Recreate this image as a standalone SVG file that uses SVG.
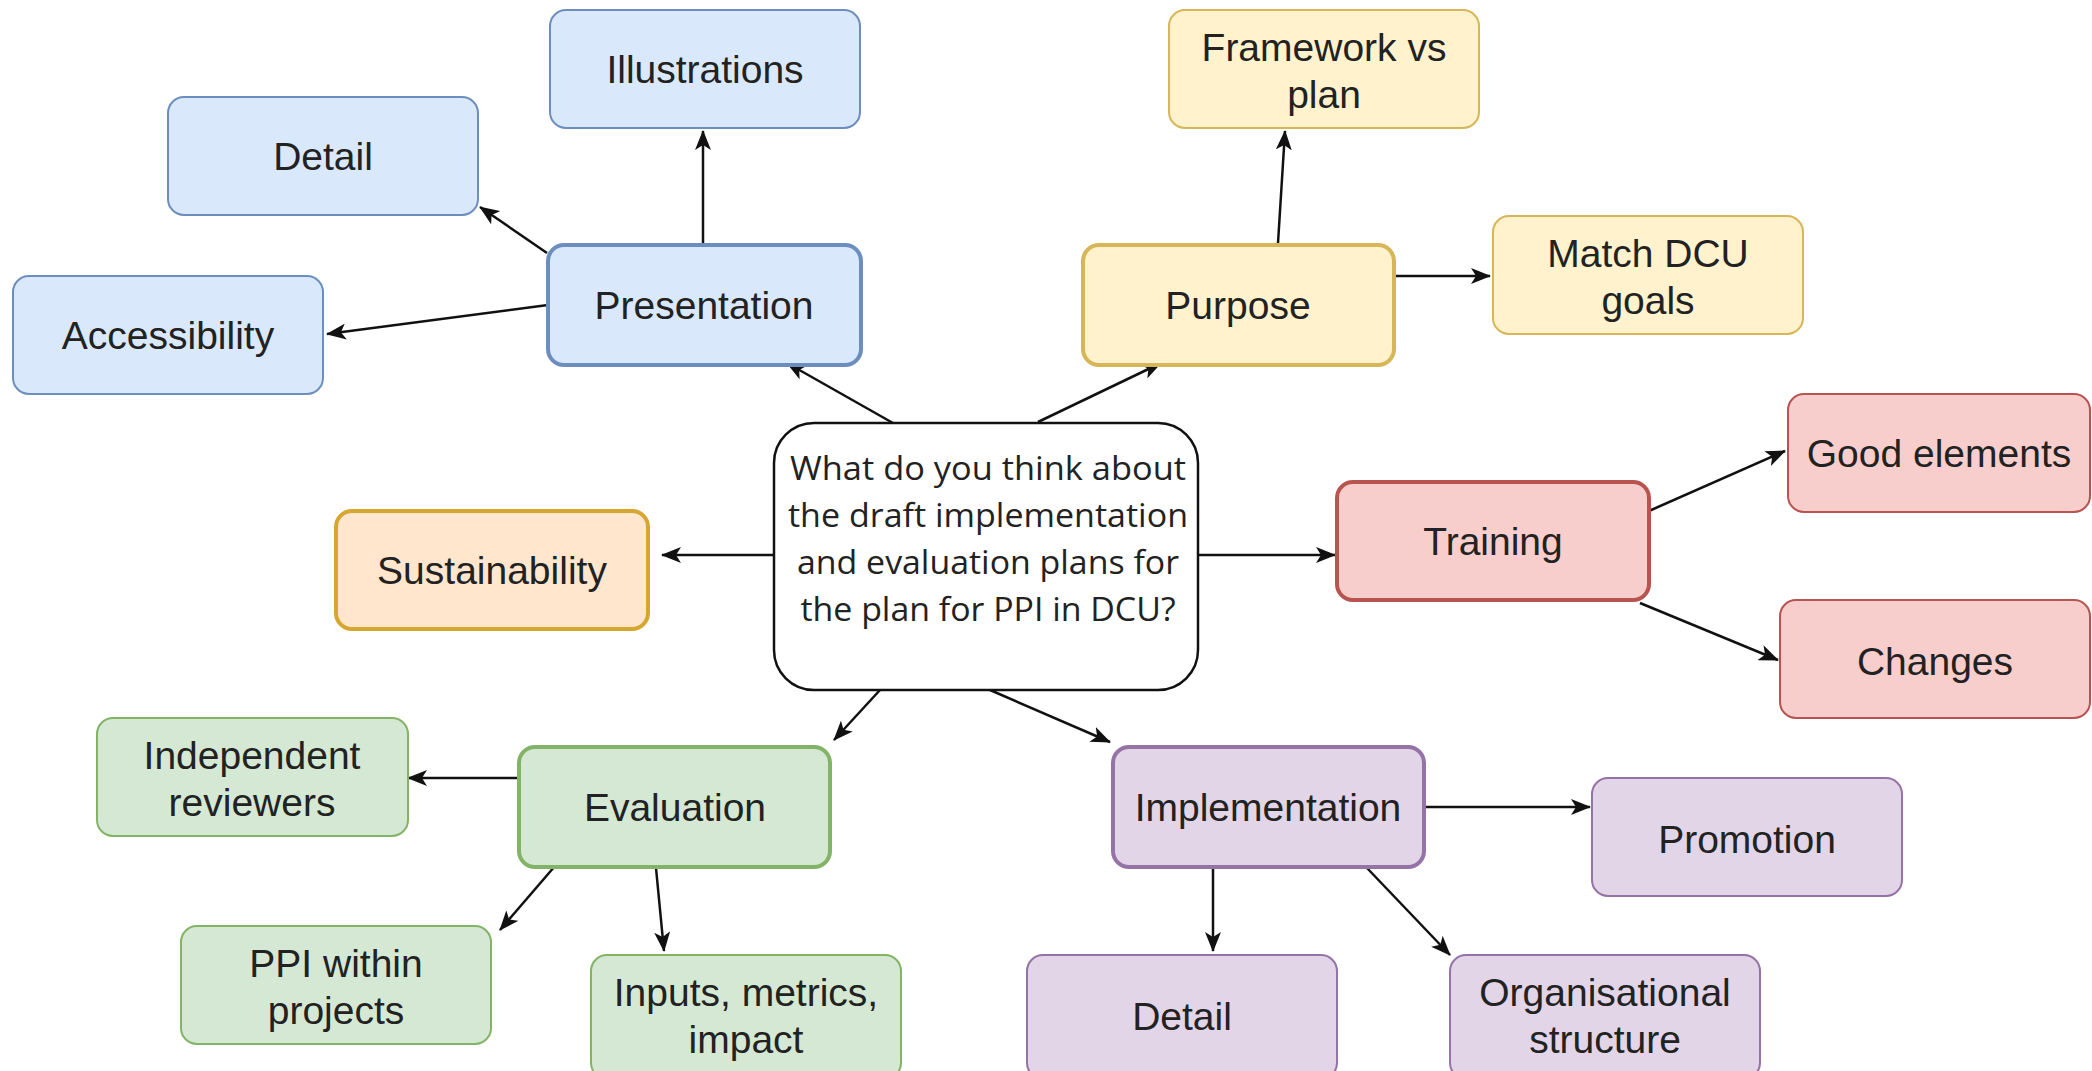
<svg xmlns="http://www.w3.org/2000/svg" width="2092" height="1071" viewBox="0 0 2092 1071">
<defs>
<style>
.n rect{stroke-width:2}
.main rect{stroke-width:4}
.blue rect{fill:#dae8fc;stroke:#6c8ebf}
.yellow rect{fill:#fff2cc;stroke:#d6b656}
.orange rect{fill:#ffe6cc;stroke:#d6a630}
.red rect{fill:#f8cecc;stroke:#b85450}
.green rect{fill:#d5e8d4;stroke:#82b366}
.purple rect{fill:#e1d5e7;stroke:#9673a6}
.n text{font-family:"Liberation Sans",Arial,sans-serif;font-size:39px;fill:#222;text-anchor:middle}
.q text{font-family:"Open Sans","Noto Sans",sans-serif;font-size:32px;fill:#222;text-anchor:middle}
.edges line{stroke:#111;stroke-width:2.5;marker-end:url(#arr)}
</style>
<marker id="arr" viewBox="0 0 20 16" refX="19" refY="8" markerWidth="20" markerHeight="16" orient="auto" markerUnits="userSpaceOnUse">
<path d="M0,0 L20,8 L0,16 L5,8 z" fill="#111"/>
</marker>
</defs>
<rect width="2092" height="1071" fill="#fff"/>

<g class="edges" id="connectors">
<line x1="900" y1="427" x2="787" y2="363"/>
<line x1="1038" y1="422" x2="1161" y2="363"/>
<line x1="774" y1="555" x2="662" y2="555"/>
<line x1="1197" y1="555" x2="1335" y2="555"/>
<line x1="880" y1="690" x2="834" y2="740"/>
<line x1="990" y1="690" x2="1110" y2="742"/>
<line x1="703" y1="245" x2="703" y2="131"/>
<line x1="547" y1="253" x2="480" y2="207"/>
<line x1="548" y1="305" x2="327" y2="334"/>
<line x1="1278" y1="243" x2="1285" y2="131"/>
<line x1="1394" y1="276" x2="1490" y2="276"/>
<line x1="1649" y1="511" x2="1785" y2="451"/>
<line x1="1640" y1="603" x2="1778" y2="660"/>
<line x1="519" y1="778" x2="408" y2="778"/>
<line x1="555" y1="866" x2="500" y2="930"/>
<line x1="656" y1="868" x2="664" y2="951"/>
<line x1="1423" y1="807" x2="1590" y2="807"/>
<line x1="1213" y1="868" x2="1213" y2="951"/>
<line x1="1367" y1="868" x2="1450" y2="955"/>
</g>

<g id="question" class="q">
<rect x="774" y="423" width="424" height="267" rx="40" fill="#fff" stroke="#111" stroke-width="2.5"/>
<text x="988" y="480" textLength="396" lengthAdjust="spacingAndGlyphs">What do you think about</text>
<text x="988" y="527" textLength="400" lengthAdjust="spacingAndGlyphs">the draft implementation</text>
<text x="988" y="574" textLength="382" lengthAdjust="spacingAndGlyphs">and evaluation plans for</text>
<text x="988" y="621" textLength="375" lengthAdjust="spacingAndGlyphs">the plan for PPI in DCU?</text>
</g>

<g id="presentation" class="n main blue"><rect x="548" y="245" width="313" height="120" rx="16"/><text x="704" y="319">Presentation</text></g>
<g id="illustrations" class="n blue"><rect x="550" y="10" width="310" height="118" rx="16"/><text x="705" y="83">Illustrations</text></g>
<g id="detail-presentation" class="n blue"><rect x="168" y="97" width="310" height="118" rx="16"/><text x="323" y="170">Detail</text></g>
<g id="accessibility" class="n blue"><rect x="13" y="276" width="310" height="118" rx="16"/><text x="168" y="349">Accessibility</text></g>

<g id="purpose" class="n main yellow"><rect x="1083" y="245" width="311" height="120" rx="16"/><text x="1238" y="319">Purpose</text></g>
<g id="framework" class="n yellow"><rect x="1169" y="10" width="310" height="118" rx="16"/><text x="1324" y="61">Framework vs</text><text x="1324" y="108">plan</text></g>
<g id="match-dcu" class="n yellow"><rect x="1493" y="216" width="310" height="118" rx="16"/><text x="1648" y="267">Match DCU</text><text x="1648" y="314">goals</text></g>

<g id="sustainability" class="n main orange"><rect x="336" y="511" width="312" height="118" rx="16"/><text x="492" y="584">Sustainability</text></g>

<g id="training" class="n main red"><rect x="1337" y="482" width="312" height="118" rx="16"/><text x="1493" y="555">Training</text></g>
<g id="good-elements" class="n red"><rect x="1788" y="394" width="302" height="118" rx="16"/><text x="1939" y="467">Good elements</text></g>
<g id="changes" class="n red"><rect x="1780" y="600" width="310" height="118" rx="16"/><text x="1935" y="675">Changes</text></g>

<g id="evaluation" class="n main green"><rect x="519" y="747" width="311" height="120" rx="16"/><text x="675" y="821">Evaluation</text></g>
<g id="independent-reviewers" class="n green"><rect x="97" y="718" width="311" height="118" rx="16"/><text x="252" y="769">Independent</text><text x="252" y="816">reviewers</text></g>
<g id="ppi-within-projects" class="n green"><rect x="181" y="926" width="310" height="118" rx="16"/><text x="336" y="977">PPI within</text><text x="336" y="1024">projects</text></g>
<g id="inputs-metrics-impact" class="n green"><rect x="591" y="955" width="310" height="124" rx="16"/><text x="746" y="1006">Inputs, metrics,</text><text x="746" y="1053">impact</text></g>

<g id="implementation" class="n main purple"><rect x="1113" y="747" width="311" height="120" rx="16"/><text x="1268" y="821">Implementation</text></g>
<g id="promotion" class="n purple"><rect x="1592" y="778" width="310" height="118" rx="16"/><text x="1747" y="853">Promotion</text></g>
<g id="detail-implementation" class="n purple"><rect x="1027" y="955" width="310" height="124" rx="16"/><text x="1182" y="1030">Detail</text></g>
<g id="organisational-structure" class="n purple"><rect x="1450" y="955" width="310" height="124" rx="16"/><text x="1605" y="1006">Organisational</text><text x="1605" y="1053">structure</text></g>
</svg>
